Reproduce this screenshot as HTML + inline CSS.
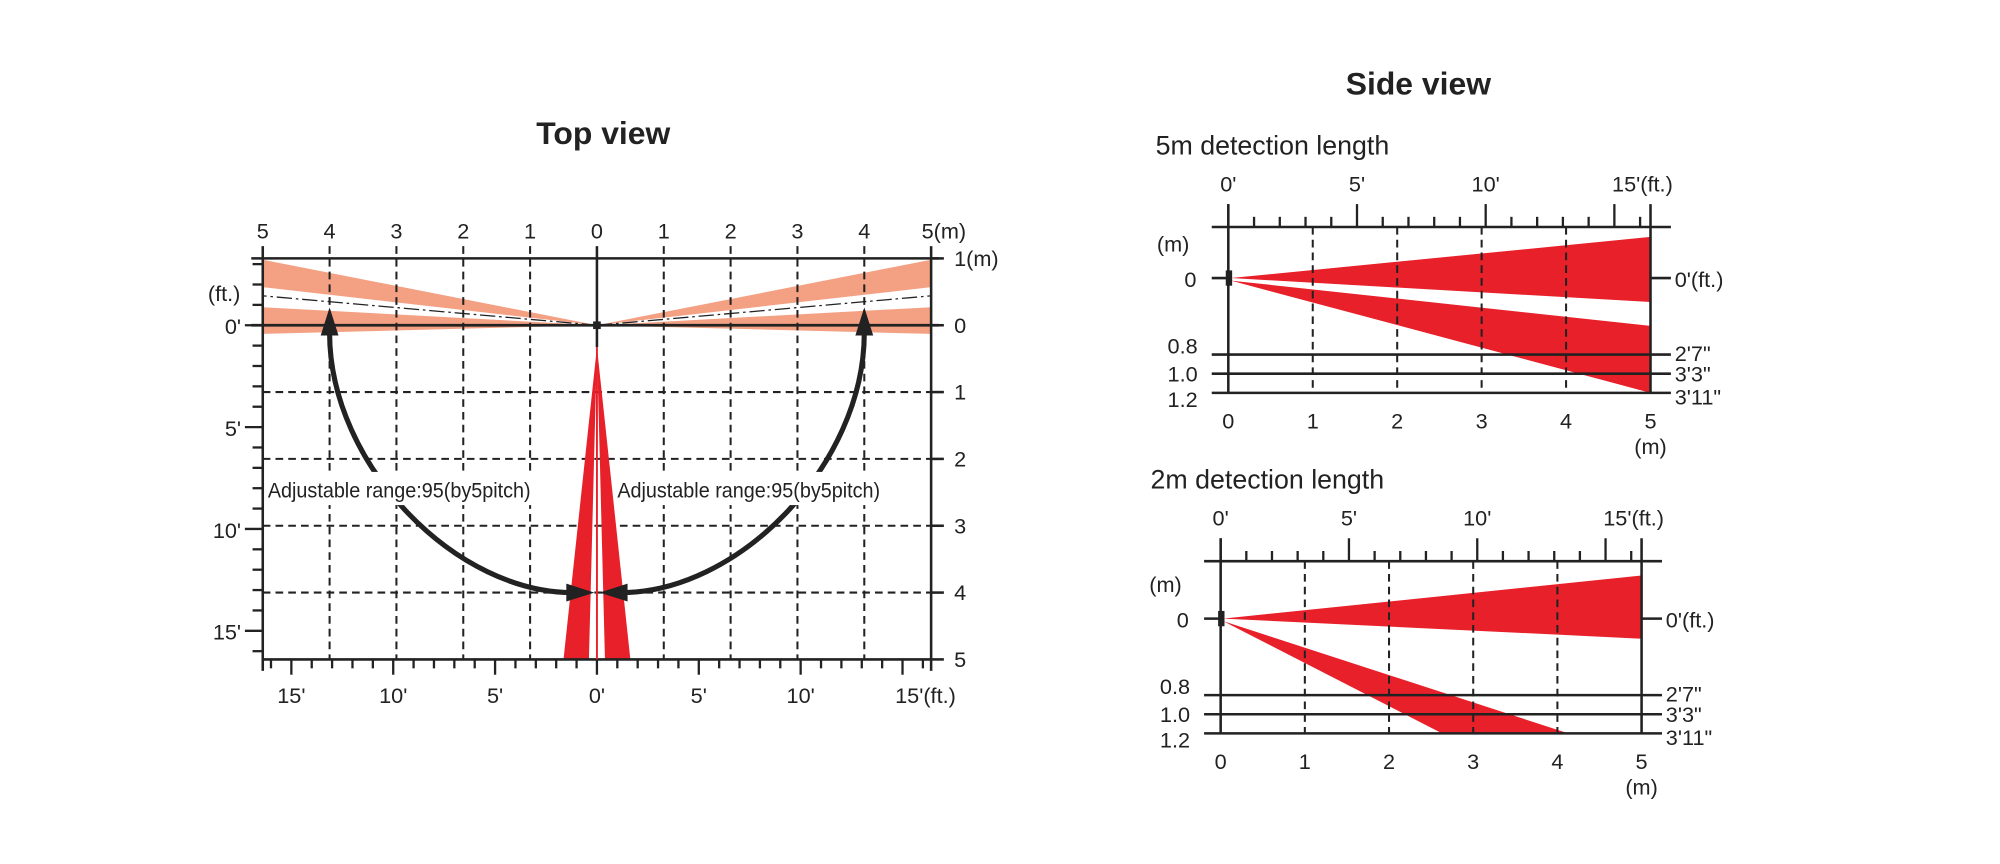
<!DOCTYPE html>
<html><head><meta charset="utf-8"><style>
html,body{margin:0;padding:0;background:#fff;}
svg{display:block;font-family:"Liberation Sans",Arial,sans-serif;}
</style></head><body>
<svg id="fig" width="2000" height="864" viewBox="0 0 1568 677.4" preserveAspectRatio="none" xmlns="http://www.w3.org/2000/svg">
<g id="top"></g>
<g id="s5"></g>
<g id="s2"></g>
<text x="473" y="113" text-anchor="middle" font-size="25" font-weight="bold" fill="#222">Top view</text>
<text x="1112" y="74" text-anchor="middle" font-size="25" font-weight="bold" fill="#222">Side view</text>
<text x="906" y="121" font-size="21" fill="#222">5m detection length</text>
<text x="902" y="383" font-size="21" fill="#222">2m detection length</text>
</svg>
<script>
// ---- Top view data ----
const topMeters = [-5,-4,-3,-2,-1,0,1,2,3,4,5];
const topMeterLabels = ['5','4','3','2','1','0','1','2','3','4','5(m)'];
const depthMeters = [-1,0,1,2,3,4,5];
const depthLabels = ['1(m)','0','1','2','3','4','5'];
const depthFeet = [0,5,10,15];
const depthFeetLabels = ["0'","5'","10'","15'"];
const bottomFeet = [-15,-10,-5,0,5,10,15];
const bottomFeetLabels = ["15'","10'","5'","0'","5'","10'","15'(ft.)"];
// salmon side bands: offsets (m, positive = upward) at 5m lateral distance
const sideBandUpper = [0.57, 0.98];
const sideBandLower = [-0.13, 0.27];
const centerLine = 0.44;
// red front beams: lateral offsets (m) at 5m depth, apex depth (m)
const frontBeamLeft = [-0.5, -0.12];
const frontBeamRight = [0.12, 0.5];
const frontApex = 0.33;

// ---- Side view data ----
const sideM = [0,1,2,3,4,5];
const sideFt = [0,5,10,15];
const sideFtLabels = ["0'","5'","10'","15'(ft.)"];
const heightLevels = [0.8,1.0,1.2];
const heightLabels = ['0.8','1.0','1.2'];
const heightFtLabels = ["2'7\"","3'3\"","3'11\""];
const wedge5Upper = [-0.43, 0.25];
const wedge5Lower = [0.5, 1.2];
const wedge2Upper = [-0.45, 0.21];
const wedge2LowerReach = [4.13, 2.63]; // distance (m) where edges reach 1.2m

const NS='http://www.w3.org/2000/svg';
function mk(p,tag,attrs,txt){const e=document.createElementNS(NS,tag);for(const k in attrs)e.setAttribute(k,attrs[k]);if(txt!==undefined)e.textContent=txt;p.appendChild(e);return e;}
const INK='#222';

// ===== TOP VIEW =====
(function(){
const g=document.getElementById('top');
const cx=468, y0=255, pm=52.4, pf=pm*0.3048;
const X=m=>cx+m*pm, Y=m=>y0+m*pm;
const L=X(-5), R=X(5);
[sideBandUpper,sideBandLower].forEach((b,i)=>{
 [-1,1].forEach(s=>{
  const p=mk(g,'polygon',{points:`${cx},${y0} ${X(5*s)},${Y(-b[1])} ${X(5*s)},${Y(-b[0])}`,fill:'#f3a083'});
  
  
 });
});
topMeters.forEach(m=>{
 if(m===0||Math.abs(m)===5)return;
 const l=mk(g,'line',{x1:X(m),x2:X(m),y1:193,y2:Y(5),stroke:INK,'stroke-width':1.6,'stroke-dasharray':'6 4'});
 
 
});
depthMeters.forEach(m=>{
 if(m<1||m>4)return;
 const l=mk(g,'line',{x1:L,x2:R,y1:Y(m),y2:Y(m),stroke:INK,'stroke-width':1.6,'stroke-dasharray':'6 4'});
 
 
});
[-1,1].forEach(s=>{
 const l=mk(g,'line',{x1:cx,y1:y0,x2:X(5*s),y2:Y(-centerLine),stroke:INK,'stroke-width':1,'stroke-dasharray':'12 3 2 3'});
 
 
});
[frontBeamLeft,frontBeamRight].forEach(b=>{
 const p=mk(g,'polygon',{points:`${cx},${Y(frontApex)} ${X(b[0])},${Y(5)} ${X(b[1])},${Y(5)}`,fill:'#e8202a'});
 
 
});
mk(g,'line',{x1:197,x2:736,y1:Y(-1),y2:Y(-1),stroke:INK,'stroke-width':2});
mk(g,'line',{x1:197,x2:736,y1:y0,y2:y0,stroke:INK,'stroke-width':2.2});
mk(g,'line',{x1:L,x2:R,y1:Y(5),y2:Y(5),stroke:INK,'stroke-width':2});
mk(g,'line',{x1:L,x2:L,y1:193,y2:Y(5)+9,stroke:INK,'stroke-width':2});
mk(g,'line',{x1:R,x2:R,y1:193,y2:Y(5)+9,stroke:INK,'stroke-width':2});
mk(g,'line',{x1:cx,x2:cx,y1:193,y2:Y(frontApex),stroke:INK,'stroke-width':2});
mk(g,'line',{x1:cx,x2:cx,y1:Y(frontApex),y2:Y(5),stroke:'#e8202a','stroke-width':1.5});
mk(g,'rect',{x:cx-3,y:y0-3,width:6,height:6,fill:INK});
topMeters.forEach((m,i)=>{
 const t=mk(g,'text',{x:X(m)+(i===10?10:0),y:187,'text-anchor':'middle','font-size':17,fill:INK},topMeterLabels[i]);
 
 
});
depthMeters.forEach((m,i)=>{
 mk(g,'line',{x1:R,x2:R+10,y1:Y(m),y2:Y(m),stroke:INK,'stroke-width':2});
 const t=mk(g,'text',{x:748,y:Y(m)+6,'font-size':17,fill:INK},depthLabels[i]);
 
 
});
for(let f=-3;f<=16;f++){
 const y=y0+f*pf; if(y>Y(5)+1)break;
 const major=f%5===0;
 mk(g,'line',{x1:L-(major?14:8),x2:L,y1:y,y2:y,stroke:INK,'stroke-width':1.8});
}
depthFeet.forEach((f,i)=>{
 const t=mk(g,'text',{x:L-17,y:y0+f*pf+7,'text-anchor':'end','font-size':17,fill:INK},depthFeetLabels[i]);
 
 
});
mk(g,'text',{x:163,y:236,'font-size':17,fill:INK},'(ft.)');
for(let f=-16;f<=16;f++){
 const major=f%5===0;
 mk(g,'line',{x1:cx+f*pf,x2:cx+f*pf,y1:Y(5),y2:Y(5)+(major?12:7),stroke:INK,'stroke-width':1.8});
}
bottomFeet.forEach((f,i)=>{
 const t=mk(g,'text',{x:cx+f*pf+(i===6?18:0),y:Y(5)+34,'text-anchor':'middle','font-size':17,fill:INK},bottomFeetLabels[i]);
 
 
});
[-1,1].forEach(s=>{
 const ax=X(4*s), ty=Y(4);
 const p=mk(g,'path',{d:`M${ax},${y0+6} C${ax},${ty-100} ${cx+s*110},${ty+2} ${cx+s*16},${ty}`,fill:'none',stroke:INK,'stroke-width':4});
 
 
 mk(g,'polygon',{points:`${ax},${y0-14} ${ax-7},${y0+8} ${ax+7},${y0+8}`,fill:INK});
 mk(g,'polygon',{points:`${cx+s*2},${ty} ${cx+s*24},${ty-7} ${cx+s*24},${ty+7}`,fill:INK});
 const bx=s<0?210:484;
 mk(g,'rect',{x:bx-2,y:370,width:212,height:26,fill:'#fff'});
 const t=mk(g,'text',{x:bx,y:390,'font-size':17,fill:INK,textLength:206,lengthAdjust:'spacingAndGlyphs'},'Adjustable range:95(by5pitch)');
 
 
});
})();

// ===== SIDE VIEWS =====
function side(id,x0,x5,yTop,y0,upper,lowerFn){
 const g=document.getElementById(id);
 const pm=(x5-x0)/5, pv=75, pf=pm*0.3048;
 const X=m=>x0+m*pm, Y=h=>y0+h*pv;
 const yB=Y(1.2);
 const w1=mk(g,'polygon',{points:`${x0+2},${y0} ${X(5)},${Y(upper[0])} ${X(5)},${Y(upper[1])}`,fill:'#e8202a'});
 
 
 const w2=mk(g,'polygon',{points:lowerFn(X,Y),fill:'#e8202a'});
 
 
 sideM.forEach(m=>{ if(m===0||m===5)return;
  const l=mk(g,'line',{x1:X(m),x2:X(m),y1:yTop,y2:yB,stroke:INK,'stroke-width':1.6,'stroke-dasharray':'6 4'});
  
  
 });
 mk(g,'line',{x1:x0-13,x2:x5+16,y1:yTop,y2:yTop,stroke:INK,'stroke-width':2});
 mk(g,'line',{x1:x0,x2:x0,y1:yTop-18,y2:yB,stroke:INK,'stroke-width':2});
 mk(g,'line',{x1:x5,x2:x5,y1:yTop-18,y2:yB,stroke:INK,'stroke-width':2});
 mk(g,'line',{x1:x0-13,x2:x0,y1:y0,y2:y0,stroke:INK,'stroke-width':2});
 mk(g,'line',{x1:x5,x2:x5+16,y1:y0,y2:y0,stroke:INK,'stroke-width':2});
 mk(g,'rect',{x:x0-2,y:y0-6,width:5,height:12,fill:INK});
 heightLevels.forEach((h,i)=>{
  const l=mk(g,'line',{x1:x0-13,x2:x5+16,y1:Y(h),y2:Y(h),stroke:INK,'stroke-width':2});
  
  
  const t=mk(g,'text',{x:x0-24,y:Y(h)+(i===0?-1:i===1?6:11),'text-anchor':'end','font-size':17,fill:INK},heightLabels[i]);
  
  
  const t2=mk(g,'text',{x:x5+19,y:Y(h)+(i===0?5:i===1?6:9),'font-size':17,fill:INK},heightFtLabels[i]);
  
  
 });
 mk(g,'text',{x:x0-25,y:y0+7,'text-anchor':'end','font-size':17,fill:INK},'0');
 mk(g,'text',{x:x0-56,y:y0-21,'font-size':17,fill:INK},'(m)');
 mk(g,'text',{x:x5+19,y:y0+7,'font-size':17,fill:INK},"0'(ft.)");
 for(let f=0;f<=16;f++){
  const major=f%5===0;
  mk(g,'line',{x1:x0+f*pf,x2:x0+f*pf,y1:yTop,y2:yTop-(major?18:8),stroke:INK,'stroke-width':1.8});
 }
 sideFt.forEach((f,i)=>{
  const t=mk(g,'text',{x:x0+f*pf+(i===3?22:0),y:yTop-28,'text-anchor':'middle','font-size':17,fill:INK},sideFtLabels[i]);
  
  
 });
 sideM.forEach(m=>{
  const t=mk(g,'text',{x:X(m),y:yB+28,'text-anchor':'middle','font-size':17,fill:INK},String(m));
  
  
 });
 mk(g,'text',{x:x5,y:yB+48,'text-anchor':'middle','font-size':17,fill:INK},'(m)');
}
side('s5',963,1294,178,218,wedge5Upper,(X,Y)=>`965,220 ${X(5)},${Y(wedge5Lower[0])} ${X(5)},${Y(wedge5Lower[1])}`);
side('s2',957,1287,440,485,wedge2Upper,(X,Y)=>`959,487 ${X(wedge2LowerReach[0])},${Y(1.2)} ${X(wedge2LowerReach[1])},${Y(1.2)}`);
</script>
</body></html>
